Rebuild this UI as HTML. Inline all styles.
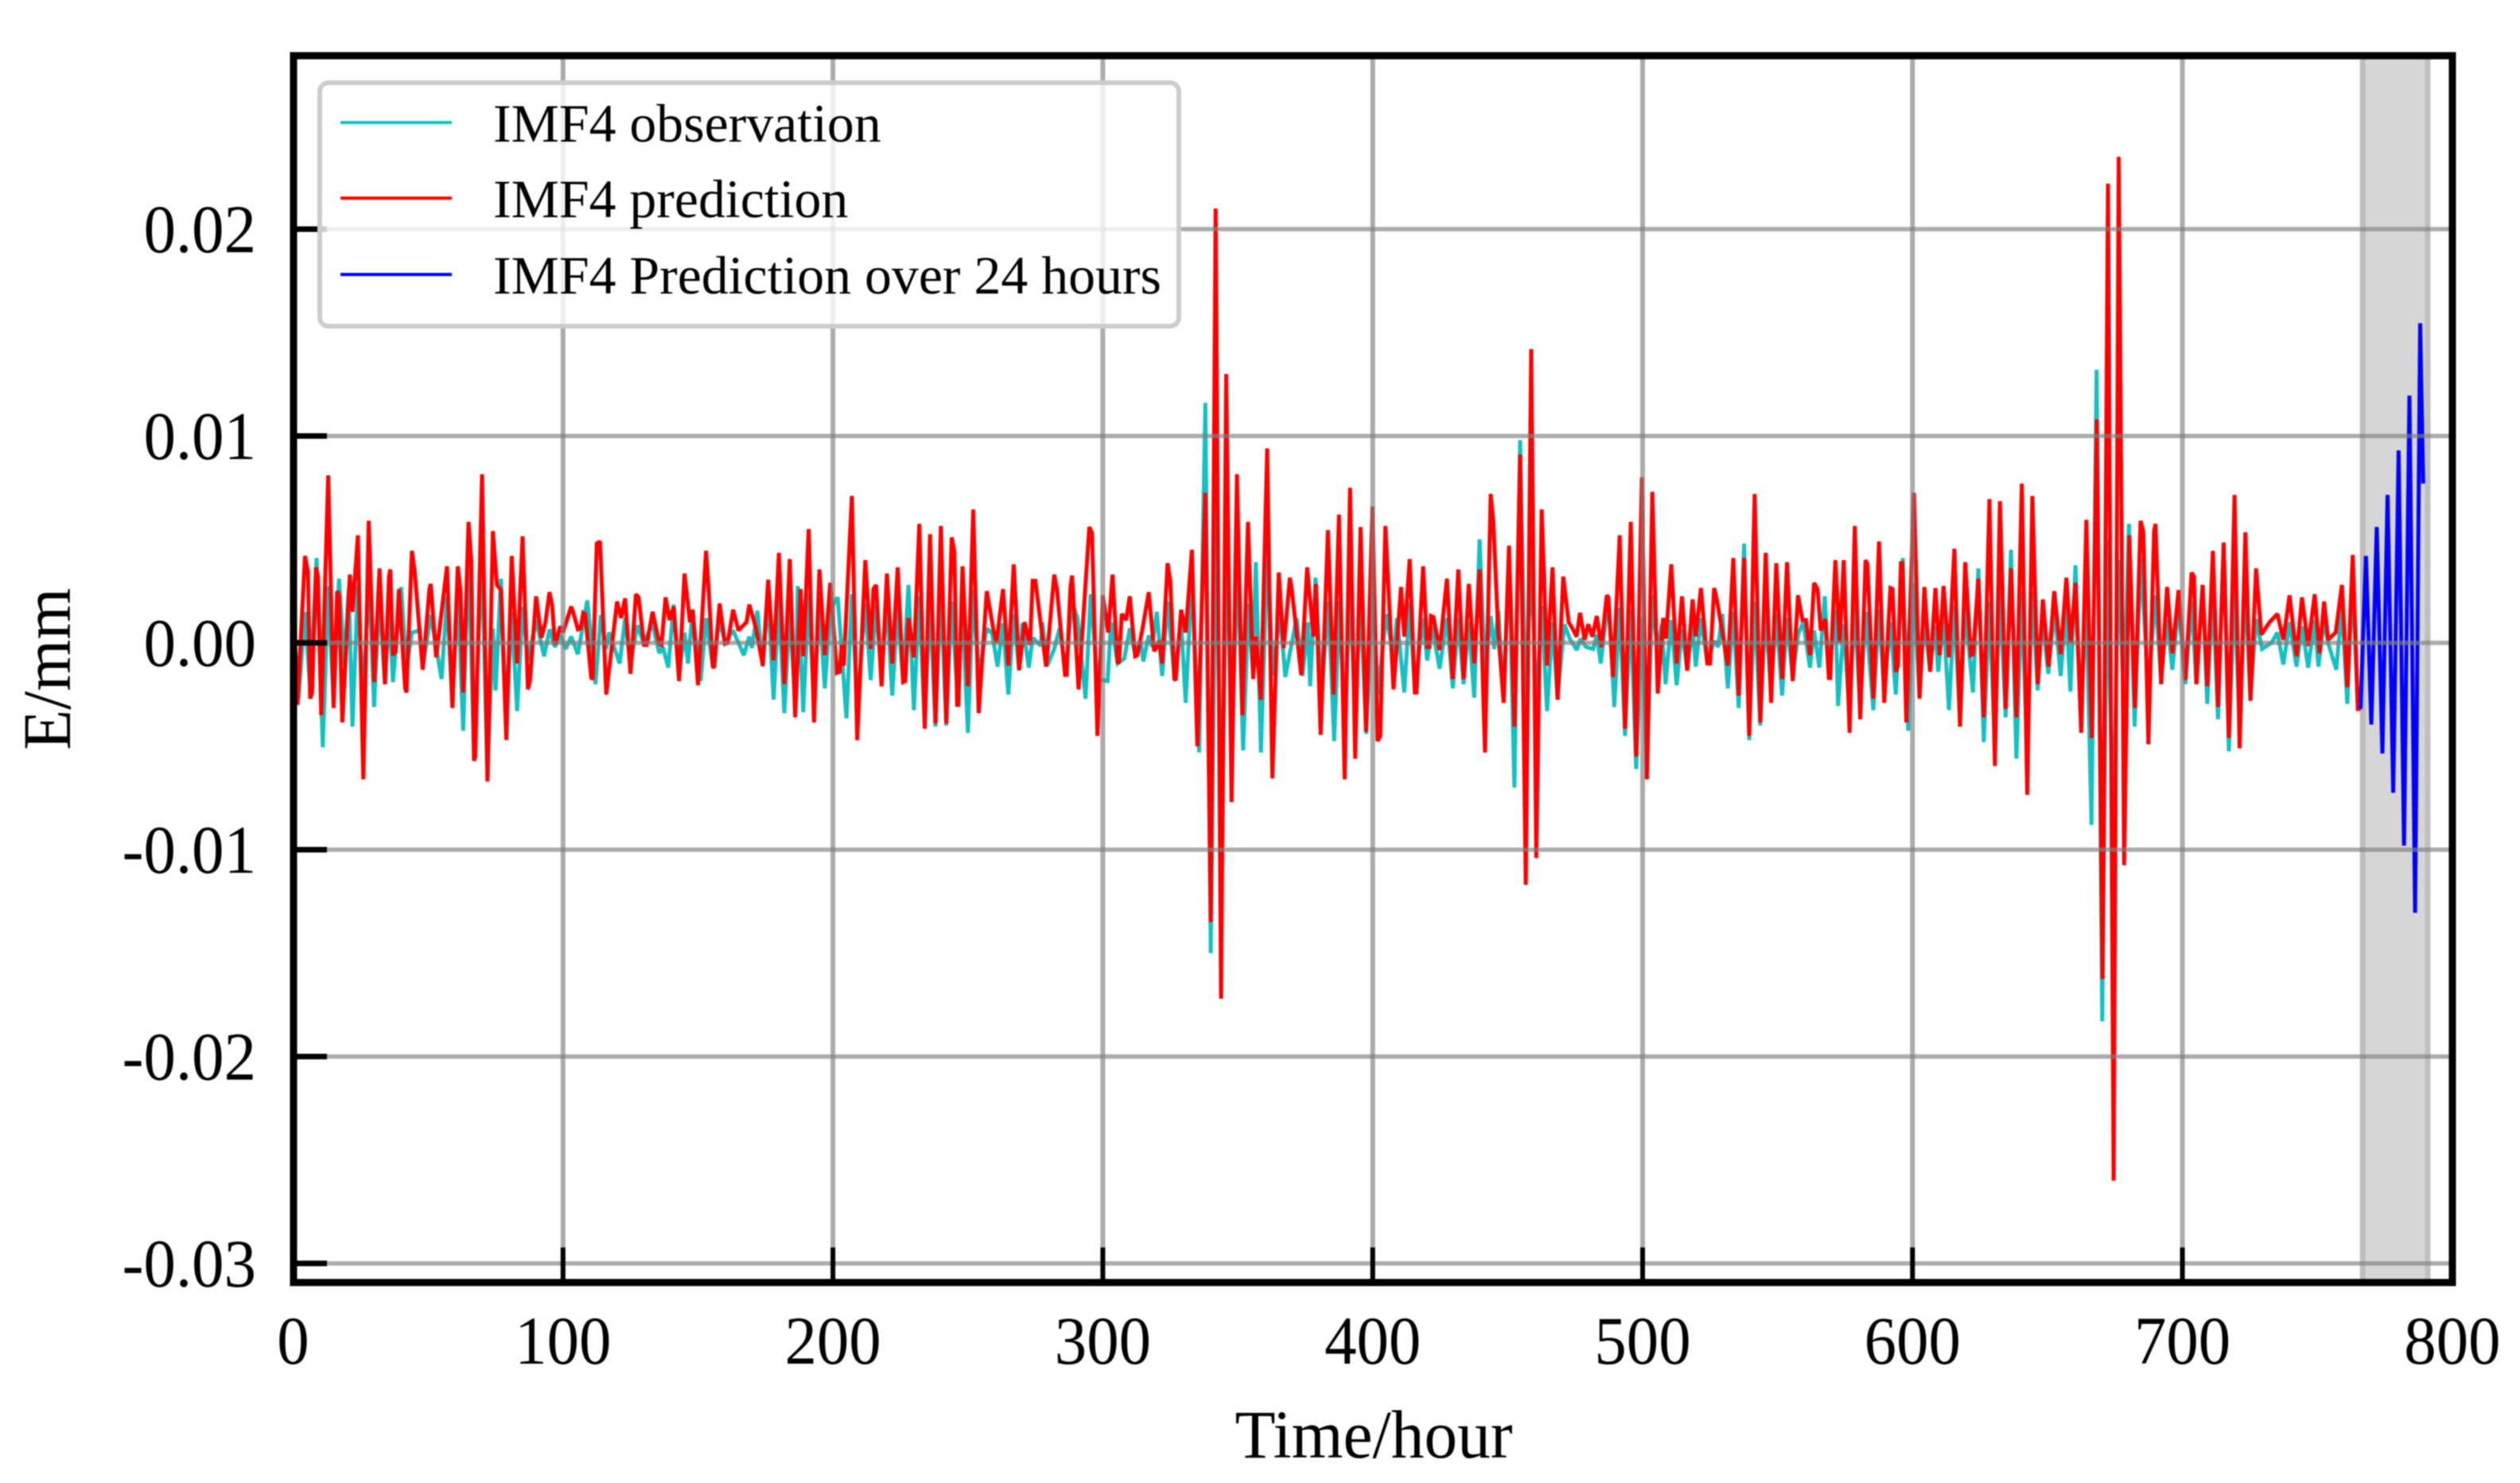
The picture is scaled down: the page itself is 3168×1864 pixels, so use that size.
<!DOCTYPE html>
<html lang="en">
<head>
<meta charset="utf-8">
<title>IMF4 observation and prediction</title>
<style>
html,body{margin:0;padding:0;background:#fff;}
body{width:3168px;height:1864px;overflow:hidden;}
svg{display:block;filter:blur(0.7px);}
text{font-family:"Liberation Serif","Times New Roman",serif;fill:#000;}
</style>
</head>
<body>
<svg id="chart" xmlns="http://www.w3.org/2000/svg" width="3168" height="1864" viewBox="0 0 3168 1864">
  <rect x="0" y="0" width="3168" height="1864" fill="#fff"/>
  <g id="band-layer"></g>
  <g id="series-layer"></g>
  <g id="grid-layer"></g>
  <g id="tick-layer"></g>
  <g id="label-layer"></g>
  <rect x="369" y="70" width="2714" height="1542" fill="none" stroke="#000" stroke-width="9"/>
  <text transform="translate(1727 1832) scale(0.97 1)" font-size="86" text-anchor="middle">Time/hour</text>
  <text transform="translate(88 841) rotate(-90) scale(0.97 1)" font-size="86" text-anchor="middle">E/mm</text>
  <g>
    <rect x="402" y="104" width="1080" height="306" rx="11" ry="11" fill="#fff" fill-opacity="0.8" stroke="#cccccc" stroke-width="6"/>
    <line x1="428" x2="568" y1="154" y2="154" stroke="#17bfc0" stroke-width="4"/>
    <text x="620" y="178" font-size="67.8">IMF4 observation</text>
    <line x1="428" x2="568" y1="249" y2="249" stroke="#ff0000" stroke-width="4"/>
    <text x="620" y="273" font-size="67.8">IMF4 prediction</text>
    <line x1="428" x2="568" y1="345" y2="345" stroke="#0000ff" stroke-width="4"/>
    <text x="620" y="369" font-size="67.8">IMF4 Prediction over 24 hours</text>
  </g>
</svg>
<script>
// Values are [hour, displacement in 1e-3 mm].
var xTicks = [0,100,200,300,400,500,600,700,800];
var xTickLabels = ['0','100','200','300','400','500','600','700','800'];
var yTicks = [20,10,0,-10,-20,-30];
var yTickLabels = ['0.02','0.01','0.00','-0.01','-0.02','-0.03'];
var forecastWindow = [766.8,790.9];

var observation = [[0,1.5],[2,-2.7],[4.4,1.5],[6.3,-2.2],[8.7,4.1],[11,-5.05],[13,2.75],[15,-3],[17,3.1],[19,-1.1],[20.6,2.6],[22,-4.05],[24,2.75],[26,-2.9],[28,3.5],[30,-3.1],[32,2.25],[34,-2],[35.7,1.55],[37,-1.9],[40,2.7],[42,-1.3],[44,.5],[47,.6],[48,-1.2],[51,1.35],[55,-1.75],[57,2.2],[59,-3],[61,2.5],[63,-4.25],[65,4.4],[67,-5.3],[70,4.2],[72,-6.6],[74,.7],[75,-2.3],[77,3.1],[79,-3.9],[81,1.5],[83,-3.3],[85,1.75],[87,-.85],[90,1.1],[93,-.65],[95,.65],[97,-.2],[99,.4],[101,-.3],[103,.3],[105.5,-.55],[109,2.05],[112,-2],[114,1.35],[116,-.3],[117,.5],[121,-1],[123,1.2],[125,-1.1],[127.5,.85],[130,-.05],[133,.95],[135.7,-.5],[137,-.2],[139,-1.2],[141,1.85],[143,-1.6],[145,.5],[146.3,-1],[148,1.6],[151,-1.85],[153,1.2],[155.5,-1.15],[158,1.1],[160,0],[163,.6],[167,-.6],[169,.3],[170,-.25],[172,1.55],[174,-1.15],[176,2.25],[178,-2.75],[180,2.1],[182,-3.4],[184,1.5],[186,-2.8],[187,2.75],[189,-3.35],[191,2.35],[193,-2.9],[195,1.7],[197,-2.2],[199,1.6],[201.8,2.2],[205,-3.65],[207,2.35],[209,-3],[212,1.9],[214,-1.8],[216,1.85],[218,-1.65],[220,2],[222,-2.55],[224,1.7],[226,-1.85],[228,2.8],[230,-3.25],[232,2.25],[234,-4],[236,2],[238,-4.05],[240,2.5],[242,-4],[244,2],[246,-2.25],[248,1.5],[250,-4.35],[252,2.55],[254,-1.6],[257,.7],[259,.45],[261,-1.15],[263,.95],[265,-2.5],[267,1.4],[269,-1.35],[270.2,.95],[272.6,-1.2],[274,.25],[277,-.15],[277.6,1],[279.4,-1.1],[282,-.3],[284,.7],[286.3,-1.35],[288.6,2],[290.6,1.2],[293.6,-2.7],[295.5,2.35],[298,-1.75],[301.8,-1.85],[303,1],[305.5,-1],[308,-.75],[310,.7],[312,-.6],[314,.1],[315,-.9],[317,.35],[318.3,-.2],[320,1.5],[322,-1.6],[324,2],[326.5,-1.6],[329,1],[330.7,-2.9],[333,3.3],[335.7,-5.3],[338,11.6],[340,-15],[342,7],[344,-10],[346,5],[348,-4],[350,4],[352,-5.2],[354,1.9],[355.5,-1.2],[356.7,3.9],[358.6,-5.3],[361,4.8],[363,-1.6],[365.6,1.5],[367.6,-1.65],[371.8,1.2],[374,-1.6],[376,1],[376.8,-2.1],[378.8,3.15],[381,-2.5],[383.6,2],[385.7,-4.75],[387.7,2],[389.6,-4],[391.6,2.5],[393.5,-3.5],[395.5,2],[397.6,-4.4],[400,2.5],[402,-2.5],[405,1.4],[407.7,-.7],[409,1.2],[411.7,-2.4],[413.7,1.95],[415.6,-2.3],[418.7,1.2],[420.2,-.85],[422,.8],[424.8,-1.25],[427.5,1.2],[429.7,-2.2],[431.7,1.2],[433.7,-2],[435.6,1],[437.6,-2.65],[439.6,5],[441.6,-1.5],[443.7,1.3],[445,-.3],[446.6,1.55],[448.5,-2.9],[450.5,4.4],[452.5,-7],[454.6,9.8],[456.7,-3.3],[458.7,4.4],[460.6,-3.3],[462.6,1.8],[464.6,-3.3],[466.6,1],[468.5,-2.7],[471,.9],[473,.2],[475.6,-.35],[477,.2],[479,-.2],[481.7,-.3],[483,.4],[484.5,-1],[487.4,2.25],[489.5,-3.1],[491.5,1.7],[493.5,-4.5],[495.6,1.6],[497.6,-6.1],[499.7,1.2],[501.6,-6.5],[503.6,2.3],[505.6,-.5],[507,.9],[508.5,-2],[510.6,1.1],[512.6,-2.05],[514.6,.7],[516.5,-1.3],[518.5,.8],[519.7,-1.15],[521.6,1.2],[524,-1],[526.5,.1],[528,-.2],[529.5,1.4],[531.6,-2.2],[533.6,1.5],[535.6,-3.15],[537.6,4.8],[539.5,-4.7],[541.5,2],[543.6,-4],[545.6,1.5],[547.6,-2.4],[549.5,1.4],[551.7,-2.55],[553.5,1.2],[555.6,-1.7],[557.6,.4],[559.5,1],[562,-1.2],[563.5,.6],[565.5,-1.2],[567.5,2.25],[569,-1.4],[571.4,1.6],[572.4,-3.05],[574.5,.9],[576.7,-3.5],[578.6,1.8],[580.6,-3.3],[582.6,1.5],[585.5,-3.25],[587.6,1.6],[589.5,-2.4],[591.8,1],[593.8,-2.5],[596.4,4.1],[598.4,-4.25],[600.5,2.9],[602.6,-2.6],[604.4,1],[606.5,-1.3],[608.5,.8],[609.5,-1.4],[611.5,1.2],[613.5,-3.25],[615.5,1.8],[617.6,-3.8],[619.5,1.7],[622.4,-2.4],[624.4,3.6],[626.4,-4.8],[628.5,2],[630.5,-5],[632.4,2.5],[634.5,-3.6],[636.5,4.5],[638.5,-5.6],[640.5,2.5],[642.5,-5.5],[644.4,2.5],[646.4,-2.3],[648.1,1.3],[650.3,-1.5],[652.6,1.6],[654.9,-1.6],[656.9,1.8],[658.5,-2.35],[660.4,3.75],[662.4,-4],[664.3,2.5],[666.3,-8.8],[668.2,13.2],[670.3,-18.3],[672.2,5],[674.3,-10],[676.3,4],[678.3,-3],[680.2,5.75],[682.3,-4.05],[684.6,4.1],[687.4,-2.2],[690,2.3],[692.1,-1.8],[694.3,1.15],[696.3,-1.3],[698.6,1.8],[701.1,-2],[703.4,2],[705.2,-2],[707.5,2.8],[709.2,-2.95],[711.3,2.5],[713.2,-3.7],[715.3,4.85],[717.2,-5.25],[719.3,2.8],[721.2,-4],[723.3,2.8],[725.2,-2.8],[727.3,1.15],[729.5,-.3],[733,0],[735.2,.5],[737.4,-1.05],[739.7,1],[742.3,-1.15],[744.3,.8],[746.6,-1.2],[749,1.1],[750.4,-1.15],[752.5,1.1],[754,0],[757,-1.3],[759.1,1.8],[761.1,-2.95],[763.1,3.1],[765,-3.1]];

var prediction = [[0,2.2],[1.6,-3],[4.4,4.2],[5.5,3.4],[6.3,-2.7],[7,-2.4],[8.5,3.65],[9.2,3.2],[10.4,-3.5],[13,8.1],[15,-3.15],[16.3,2.5],[17,2.3],[18.2,-3.85],[21,3.3],[22,1.5],[24,5.2],[26,-6.6],[28,5.9],[30,-1.9],[32,3.6],[34,-2],[35.5,3.2],[36,3.55],[37,-.6],[38,-.4],[39.2,2.6],[41.5,-2.2],[42,-2.4],[44,4.45],[45,3.5],[48,-1.3],[50.5,2.6],[51,2.85],[53,-.7],[57,3.7],[59,-3.15],[61,3.7],[62,2.5],[63,-2.4],[65,5.85],[66,4],[67,-5.7],[67.5,-5.5],[70,8.15],[72,-6.7],[74,5.4],[75.5,2.8],[77,2.55],[79,-4.7],[81,4.2],[83,-1],[85,5.15],[87,-2.25],[87.8,-1.8],[90,2.25],[92,.25],[93.5,1],[95,2.45],[96,1.8],[97,-.1],[99,.8],[100,.5],[103,1.75],[103.7,1.5],[105.5,.65],[106.5,.7],[107.5,1.45],[108.2,1.4],[110.5,-1.75],[111,-1.7],[112.5,4.8],[113.7,4.9],[116,-2.5],[120,2],[121.5,1.2],[123,2.15],[125,-1.5],[127,2.35],[128,2.2],[130,-.1],[131,-.1],[133.2,1.5],[135.7,-.05],[136.5,-.1],[138,2.2],[139.5,1.1],[141,1.75],[143,-1.85],[145,3.35],[147,1],[148,1.6],[150,-2.05],[153,4.45],[154,2.5],[155.5,-1.15],[156,-1.2],[158,1.9],[160,-.05],[161,0],[163,1.6],[165,.6],[168,1],[169,1.85],[171.5,.7],[174,-1.1],[176,3.05],[178,-.85],[180,4.35],[182,-2],[184,4.05],[186,-3.6],[188,2.6],[189,-.65],[191,5.5],[193,-3.85],[195,3.55],[197,-.6],[199,2.9],[201.5,-1.45],[202.5,-1.4],[203.2,-.1],[204,-1.1],[207,7.1],[209,-4.7],[212,4],[214,-.3],[215,2.6],[216,2.8],[218,-2.1],[220,3.35],[222,-1],[224,3.65],[226,-1.9],[226.8,-1.85],[228,1.2],[230,-.7],[232,5.75],[234,-4.15],[236,5.25],[238,-3.9],[240,5.65],[242,-3.9],[244,5.1],[245,4.4],[246,-3],[246.5,-3],[248,3.7],[250,-2.1],[252,6.45],[254,-3.4],[257,2.5],[259.5,.6],[260.6,0],[263,2.6],[265,-1.1],[267,3.8],[269,-1.3],[271,1],[273,-.1],[274,3],[275,3],[279,-1.15],[282,3.3],[283,2.6],[286,-1.55],[286.6,-1.55],[288,2.7],[288.6,3.25],[291,-2.25],[295,5.6],[296,5.3],[298,-4.5],[300,2.3],[302,.5],[303.6,3.3],[305.5,-1],[306,-.9],[307,1.4],[308.6,1.1],[310,2.25],[312,-.65],[312.8,-.6],[315,.9],[317,2.45],[319,-.4],[320,-.2],[321,.1],[322,-1],[324,3.85],[325,3],[326.5,-1.75],[327,-1.8],[329,1.6],[330.7,.5],[333,4.5],[335,-5],[338,7.25],[340,-13.5],[341.8,21],[343.8,-17.2],[345.7,13],[347.7,-7.7],[349.7,8.15],[351.7,-3.5],[353.8,5.85],[355.7,-1.75],[356.7,.3],[358.6,-2.75],[360.9,9.4],[362.8,-6.55],[365.2,3.4],[367,-.25],[369.3,3.15],[370,2.6],[373.5,-1.55],[375.7,3.65],[378,.3],[379,2.85],[380.7,-4.45],[383.4,5.45],[385.5,-2.5],[387.5,6.2],[389.6,-6.6],[391.6,7.5],[393.5,-5.6],[395.5,5.6],[397.5,-4.3],[399.9,6.6],[401.8,-4.75],[402.8,-4.5],[404.7,5.65],[407.7,-2.25],[410.5,2.7],[411.7,.3],[413.7,4.05],[415.6,-2.4],[416.2,-2.4],[418.7,3.7],[420.2,-.2],[421,-.2],[421.6,1.3],[422.5,1.25],[424.8,-.35],[427.5,3.1],[429.6,-1.75],[431.7,3.55],[433.7,-1.75],[435.6,2.85],[437.6,-1],[439.6,3.55],[441.6,-5.3],[443.7,7.2],[444.7,5.8],[446.5,.5],[448.5,-2.9],[450.5,4.7],[452.5,-4.05],[454.6,9.1],[456.7,-11.7],[458.7,14.2],[460.6,-10.4],[462.6,6.45],[464.6,-1.1],[466.6,3.65],[468.5,-2.75],[470.6,3.2],[472.6,1],[474,.7],[475.5,.3],[476.8,1.45],[478.5,.15],[479.8,.9],[481.4,.3],[483,1.3],[484.7,-.2],[486.7,2.3],[487.3,2.2],[489,-1.65],[491.5,5.2],[493.5,-4.15],[495.6,5.85],[497.6,-5.5],[499.7,8],[501.6,-6.6],[503.6,7.3],[505.6,-2.45],[507.6,1.2],[508.6,.2],[510.6,3.8],[512.6,-1],[514.6,2.25],[516.5,-1.35],[518.5,2.1],[519.7,.3],[521.6,2.65],[524,-1],[525,-1],[526.5,2.65],[527.5,2.1],[531.6,-1.1],[533.6,4.1],[535.6,-2.55],[537.6,4.1],[539.5,-4.5],[541.5,7.2],[543.6,-3.85],[545.6,4.35],[547.6,-2.9],[549.5,3.85],[551.7,-1.75],[553.5,3.9],[555.6,-1.85],[557.6,2.3],[559.2,1.1],[560.5,1.1],[562,-.6],[563.5,2.9],[564.8,2.6],[566,.6],[567.7,1.15],[569,-1.7],[569.5,-1.7],[571.4,4],[573,0],[574.5,4],[576.7,-4.35],[578.6,5.65],[580.6,-3.7],[582.6,4],[583.3,3.8],[585.5,-2.7],[587.6,4.9],[589.5,-2.9],[591.8,2.65],[592.6,2.6],[593.8,-1.4],[594.6,-1.1],[595.7,3.85],[596.2,3.85],[597.7,-3.85],[600.5,7.25],[602.6,-2.7],[604.4,2.7],[606.5,-1.4],[608.5,2.65],[610,-.6],[611.5,2.75],[613.5,-.7],[615.5,4.55],[617.6,-4.05],[619.5,3.9],[621.6,-.6],[622.4,-.55],[624.4,3.1],[626.4,-3.6],[628.5,6.95],[630.5,-5.95],[632.4,6.85],[634.5,-3.2],[636.5,3.6],[638.5,-3.6],[640.5,7.7],[642.5,-7.35],[644.4,7.1],[646.4,-2],[648.3,2.1],[650.4,-1.15],[652.5,2.5],[654.9,-.55],[657,3.15],[658.6,0],[660.4,2.9],[662.5,-4.35],[664.4,5.95],[666.4,-4.6],[668.3,10.8],[670.4,-16.25],[672.4,22.2],[674.5,-26],[676.4,23.5],[678.4,-10.75],[680.3,5.2],[682.4,-3.15],[684.5,5.9],[685.5,5.4],[687.4,-4.9],[689.5,5.4],[690,5.75],[692.1,-2],[694.3,2.7],[696.3,-.5],[698.6,2.55],[701.1,-1.8],[703.4,3.4],[704.3,3.2],[705.2,-2],[707.5,2.8],[709.2,-2.1],[711.3,4.45],[713.2,-3.1],[715.3,4.85],[717.2,-4.6],[719.3,7.15],[721.2,-5.1],[723.3,5.35],[725.2,-2.8],[727.3,3.6],[729.2,.4],[732.3,1],[735.2,1.4],[737.4,.15],[739.7,2.3],[742.3,-.65],[744.3,2.2],[746.6,-.15],[749,2.35],[750.8,-.5],[752.5,2],[754,.15],[756.8,.5],[759.1,2.8],[761.1,-2.15],[763.1,4.25],[765,-3.2],[766,-3.2]];

var forecast = [[766,-3.2],[768,4.2],[770,-3.95],[772,5.6],[774.1,-5.35],[776,7.15],[778.1,-7.25],[780.1,9.3],[782.1,-9.8],[784.1,11.95],[786.2,-13.05],[788.1,15.45],[789.2,7.7]];

var SVG_NS = 'http://www.w3.org/2000/svg';
function xScale(hour){ return 368.5 + hour * 3.393; }
function yScale(value){ return 808 - value * 26; }
function shape(tag, parent, attrs){
  var el = document.createElementNS(SVG_NS, tag);
  for (var k in attrs) { el.setAttribute(k, attrs[k]); }
  parent.appendChild(el);
  return el;
}
var bandLayer = document.getElementById('band-layer');
var seriesLayer = document.getElementById('series-layer');
var gridLayer = document.getElementById('grid-layer');
var tickLayer = document.getElementById('tick-layer');
var labelLayer = document.getElementById('label-layer');

var bandLeft = xScale(forecastWindow[0]);
var bandRight = xScale(forecastWindow[1]);
var band = shape('rect', bandLayer, {x: bandLeft, y: 70, width: bandRight - bandLeft, height: 1542, fill: '#d6d6d6'});


var bandEdgeLeft = shape('line', bandLayer, {x1: bandLeft, x2: bandLeft, y1: 70, y2: 1612, stroke: '#bcbcbc', 'stroke-width': 7});


var bandEdgeRight = shape('line', bandLayer, {x1: bandRight, x2: bandRight, y1: 70, y2: 1612, stroke: '#c0c0c0', 'stroke-width': 7});



function pointsOf(series){
  return series.map(function(p){ return xScale(p[0]).toFixed(1) + ',' + yScale(p[1]).toFixed(1); }).join(' ');
}
function lineStyle(series, colour){
  return {points: pointsOf(series), fill: 'none', stroke: colour, 'stroke-width': 5, 'stroke-linejoin': 'miter', 'stroke-miterlimit': 2};
}
var observationLine = shape('polyline', seriesLayer, lineStyle(observation, '#17bfc0'));


var predictionLine = shape('polyline', seriesLayer, lineStyle(prediction, '#ff0000'));


var forecastLine = shape('polyline', seriesLayer, lineStyle(forecast, '#0000ff'));



xTicks.forEach(function(hour, i){
  var x = xScale(hour);
  if (i > 0 && i < xTicks.length - 1) {
    var grid = shape('line', gridLayer, {x1: x, x2: x, y1: 70, y2: 1612, stroke: '#808080', 'stroke-opacity': 0.66, 'stroke-width': 6});
    
    
    var tick = shape('line', tickLayer, {x1: x, x2: x, y1: 1568, y2: 1612, stroke: '#000', 'stroke-width': 6});
    
    
  }
  var label = shape('text', labelLayer, {transform: 'translate(' + x + ' 1714) scale(0.94 1)', 'font-size': 86, 'text-anchor': 'middle'});
  label.textContent = xTickLabels[i];
  
  
});

yTicks.forEach(function(value, i){
  var y = yScale(value);
  var grid = shape('line', gridLayer, {x1: 369, x2: 3083, y1: y, y2: y, stroke: '#808080', 'stroke-opacity': 0.66, 'stroke-width': 5.5});
  
  
  var tick = shape('line', tickLayer, {x1: 369, x2: 411, y1: y, y2: y, stroke: '#000', 'stroke-width': 7});
  
  
  var label = shape('text', labelLayer, {transform: 'translate(322 ' + (y + 29) + ') scale(0.94 1)', 'font-size': 86, 'text-anchor': 'end'});
  label.textContent = yTickLabels[i];
  
  
});
</script>
</body>
</html>
